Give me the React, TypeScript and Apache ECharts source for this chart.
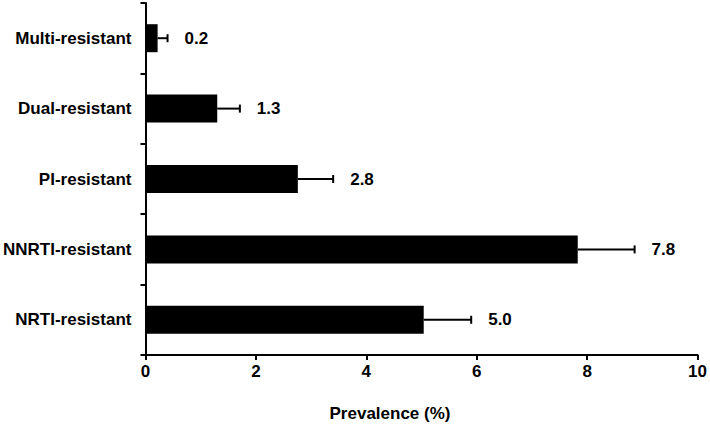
import React, { useEffect, useRef } from "react";
import * as echarts from "echarts";

const categories = ["NRTI-resistant", "NNRTI-resistant", "PI-resistant", "Dual-resistant", "Multi-resistant"];
const prevalence = [5.04, 7.83, 2.76, 1.3, 0.22];
const upperCI = [5.9, 8.86, 3.4, 1.71, 0.4];
const valueLabels = ["5.0", "7.8", "2.8", "1.3", "0.2"];
const xTicks = [0, 2, 4, 6, 8, 10];

const FONT = "'Liberation Sans', Arial, Helvetica, sans-serif";

export default function App() {
  const ref = useRef<HTMLDivElement>(null);
  useEffect(() => {
    if (!ref.current) return;
    const chart = echarts.init(ref.current, null, { renderer: "svg" });
    const errData = categories.map((_, i) => [prevalence[i], i, upperCI[i], valueLabels[i]]);
    chart.setOption({
      animation: false,
      backgroundColor: "#ffffff",
      grid: { left: 144, right: 12, top: 3, bottom: 71, containLabel: false },
      xAxis: {
        type: "value",
        min: xTicks[0],
        max: xTicks[xTicks.length - 1],
        interval: 2,
        axisLine: { show: true, lineStyle: { color: "#000", width: 2 } },
        axisTick: { show: true, length: 5, lineStyle: { color: "#000", width: 2 } },
        axisLabel: { color: "#000", fontFamily: FONT, fontWeight: "bold", fontSize: 17, margin: 8 },
        splitLine: { show: false },
      },
      yAxis: {
        type: "category",
        data: categories,
        axisLine: { show: true, lineStyle: { color: "#000", width: 2 } },
        axisTick: { show: true, length: 5, lineStyle: { color: "#000", width: 2 } },
        axisLabel: { color: "#000", fontFamily: FONT, fontWeight: "bold", fontSize: 17, margin: 14 },
        splitLine: { show: false },
      },
      graphic: [
        {
          type: "text",
          x: 390,
          y: 413,
          style: {
            text: "Prevalence (%)",
            fill: "#000",
            font: `bold 17px ${FONT}`,
            textAlign: "center",
            textVerticalAlign: "middle",
          },
        },
      ],
      series: [
        {
          type: "bar",
          data: prevalence,
          barWidth: 28,
          itemStyle: { color: "#000" },
          z: 2,
        },
        {
          type: "custom",
          data: errData,
          z: 3,
          renderItem: (params: any, api: any) => {
            const v = api.value(0);
            const idx = api.value(1);
            const up = api.value(2);
            const d = errData[params.dataIndex];
            const s = api.coord([v, idx]);
            const e = api.coord([up, idx]);
            return {
              type: "group",
              children: [
                { type: "line", shape: { x1: s[0], y1: s[1], x2: e[0], y2: e[1] }, style: { stroke: "#000", lineWidth: 2 } },
                { type: "line", shape: { x1: e[0], y1: e[1] - 4, x2: e[0], y2: e[1] + 4 }, style: { stroke: "#000", lineWidth: 2 } },
                {
                  type: "text",
                  x: e[0] + 17,
                  y: e[1],
                  style: {
                    text: d[3],
                    fill: "#000",
                    font: `bold 17px ${FONT}`,
                    textAlign: "left",
                    textVerticalAlign: "middle",
                  },
                },
              ],
            };
          },
        },
      ],
    });
    return () => chart.dispose();
  }, []);
  return <div ref={ref} style={{ width: 710, height: 426, position: "absolute", left: 0, top: 0 }} />;
}
